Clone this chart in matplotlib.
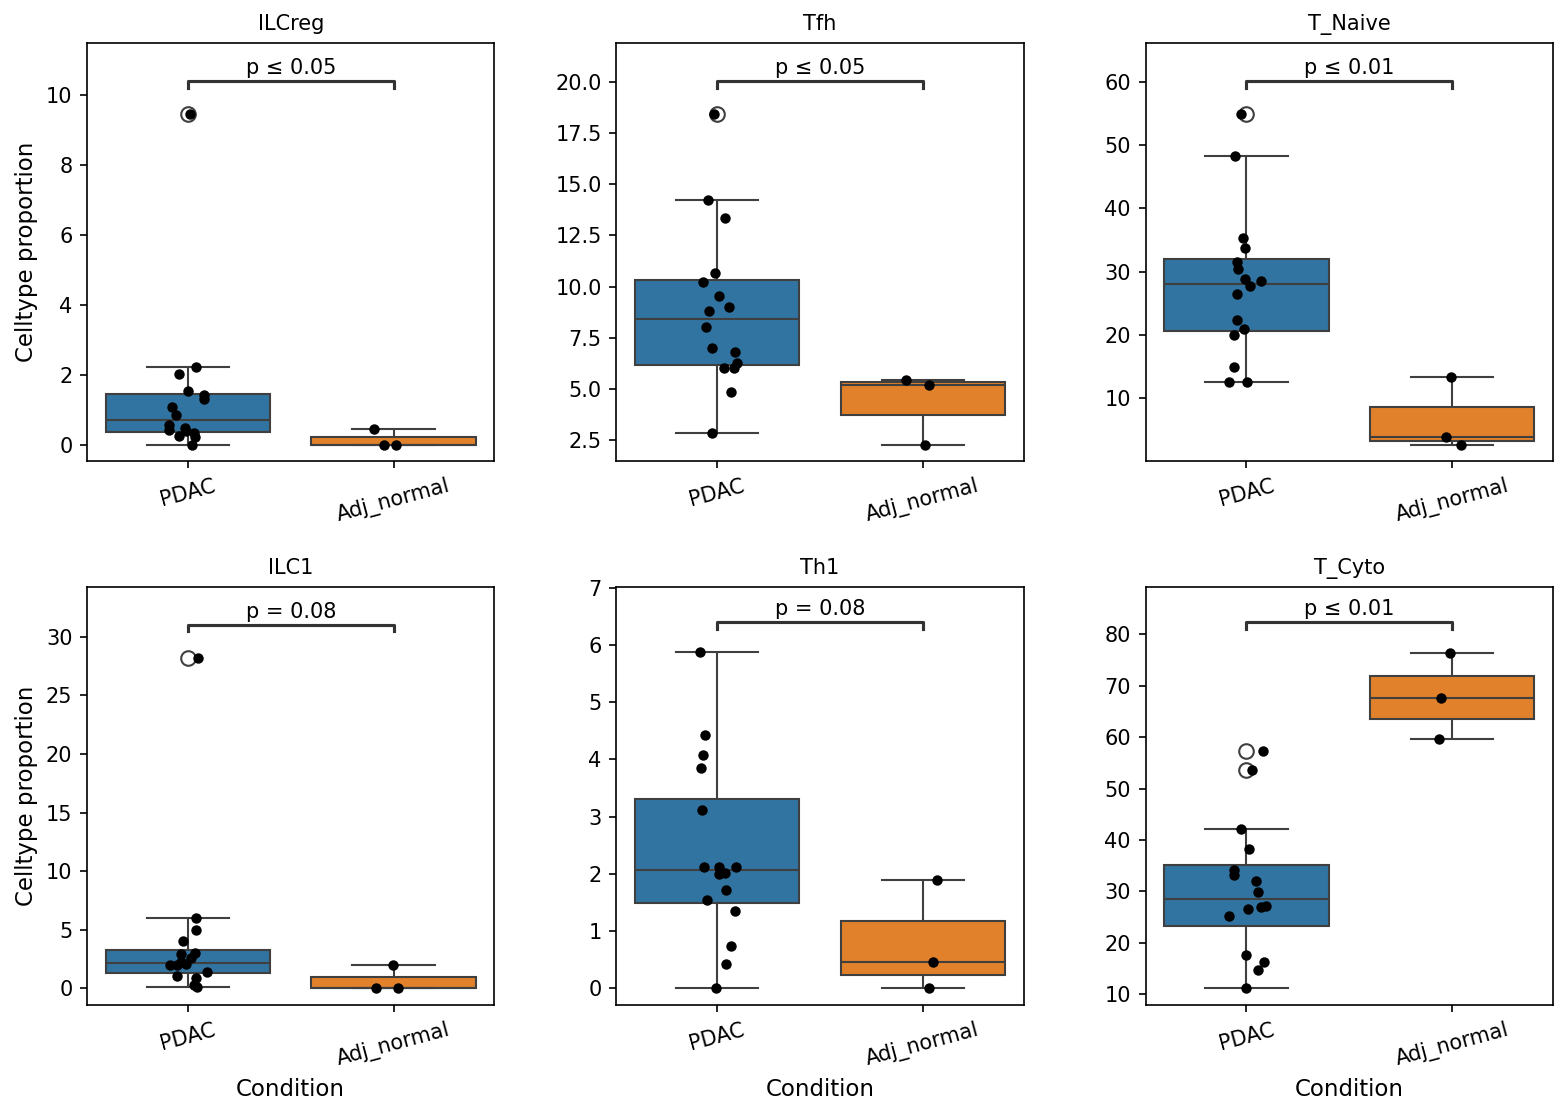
import numpy as np
import pandas as pd
import matplotlib
matplotlib.use("Agg")
from matplotlib import pyplot as plt
import seaborn as sns

# values (celltype proportion, %)
cell_types = ['ILCreg', 'Tfh', 'T_Naive', 'ILC1', 'Th1', 'T_Cyto']
conditions = ['PDAC', 'Adj_normal']
p_labels = ['p ≤ 0.05', 'p ≤ 0.05', 'p ≤ 0.01', 'p = 0.08', 'p = 0.08', 'p ≤ 0.01']

ilcreg_pdac = [9.46, 2.23, 2.02, 1.52, 1.43, 1.29, 1.08, 0.85, 0.57, 0.48, 0.41, 0.38, 0.33, 0.24, 0.21, 0.0]
ilcreg_adj = [0.45, 0.0, 0.0]

tfh_pdac = [18.43, 14.24, 13.34, 10.67, 10.23, 9.55, 9.01, 8.81, 8.05, 7.01, 6.82, 6.25, 6.04, 6.04, 4.87, 2.87]
tfh_adj = [5.45, 5.21, 2.29]

tnaive_pdac = [54.9, 48.26, 35.26, 33.68, 31.47, 30.37, 28.79, 28.58, 27.68, 26.42, 22.3, 20.9, 19.95, 14.9, 12.63, 12.63]
tnaive_adj = [13.32, 3.84, 2.7]

ilc1_pdac = [28.18, 6.03, 4.94, 4.06, 3.01, 2.96, 2.62, 2.25, 2.1, 1.96, 1.96, 1.39, 1.02, 0.91, 0.26, 0.11]
ilc1_adj = [2.02, 0.0, 0.0]

th1_pdac = [5.87, 4.43, 4.08, 3.84, 3.12, 2.12, 2.12, 2.12, 2.01, 1.99, 1.71, 1.54, 1.35, 0.74, 0.43, 0.0]
th1_adj = [1.89, 0.45, 0.0]

tcyto_pdac = [57.2, 53.6, 42.2, 38.2, 34.2, 33.25, 32.1, 29.9, 27.1, 26.95, 26.6, 25.2, 17.7, 16.2, 14.7, 11.2]
tcyto_adj = [76.4, 67.5, 59.7]

pdac_values = [ilcreg_pdac, tfh_pdac, tnaive_pdac, ilc1_pdac, th1_pdac, tcyto_pdac]
adj_values = [ilcreg_adj, tfh_adj, tnaive_adj, ilc1_adj, th1_adj, tcyto_adj]

# bracket height / top margin as fraction of data range
bracket_frac = [0.1, 0.1, 0.1, 0.1, 0.09, 0.09]
top_frac = [0.215, 0.215, 0.215, 0.215, 0.195, 0.196]

np.random.seed(3)

fig, axes = plt.subplots(2, 3, figsize=(1568/150, 1116/150), dpi=150)
fig.subplots_adjust(left=0.0555, right=0.9904, top=0.9615, bottom=0.0995, wspace=0.299, hspace=0.301)

for i, ct in enumerate(cell_types):
	ax = axes.flat[i]
	df = pd.DataFrame({
		'Condition': ['PDAC']*len(pdac_values[i]) + ['Adj_normal']*len(adj_values[i]),
		'value': pdac_values[i] + adj_values[i],
	})

	sns.boxplot(data=df, x='Condition', y='value', hue='Condition', order=conditions,
				palette=['#1f77b4', '#ff7f0e'], legend=False, ax=ax, linecolor='#3f3f3f',
				flierprops=dict(marker='o', markerfacecolor='none', markeredgecolor='#3f3f3f', markersize=7))
	sns.stripplot(data=df, x='Condition', y='value', order=conditions, color='black', size=5, ax=ax)

	lo = df['value'].min()
	hi = df['value'].max()
	rng = hi - lo
	y_line = hi + bracket_frac[i]*rng
	y_tick = y_line - 0.02*rng
	ax.plot([0, 0, 1, 1], [y_tick, y_line, y_line, y_tick], color='#333333', lw=1.5)
	ax.annotate(p_labels[i], xy=(0.5, y_line), xytext=(0, 1.5), textcoords='offset points',
				ha='center', va='bottom', fontsize=10)
	ax.set_ylim(lo - 0.05*rng, hi + top_frac[i]*rng)

	ax.set_title(ct, fontsize=10)
	ax.tick_params(axis='x', rotation=15, labelsize=10)
	ax.tick_params(axis='y', labelsize=10)

	if i % 3 == 0:
		ax.set_ylabel('Celltype proportion', fontsize=11)
	else:
		ax.set_ylabel('')
	if i >= 3:
		ax.set_xlabel('Condition', fontsize=11)
	else:
		ax.set_xlabel('')

plt.savefig('out.png', dpi=150)
